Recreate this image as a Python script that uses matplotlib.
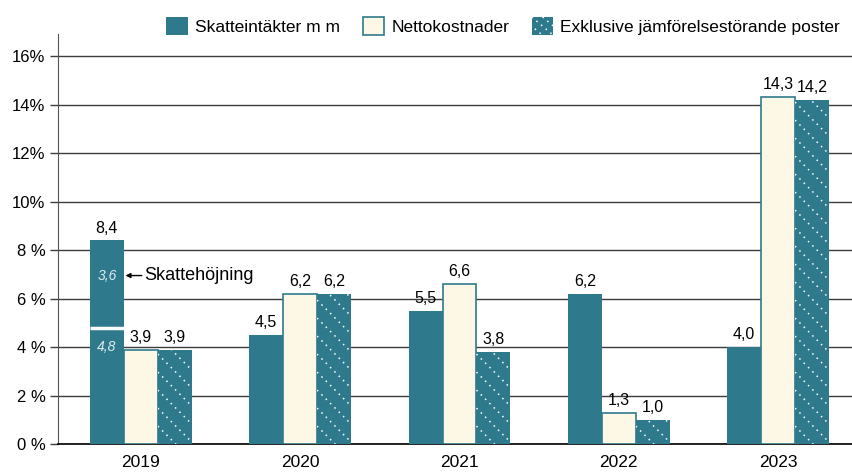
import numpy as np
import matplotlib.pyplot as plt
from matplotlib.patches import Patch, Rectangle
from matplotlib.lines import Line2D
from matplotlib.legend_handler import HandlerBase

plt.rcParams['font.family'] = ['Liberation Sans Narrow', 'Liberation Sans', 'DejaVu Sans']

# Data
years = ['2019', '2020', '2021', '2022', '2023']
skatt = [8.4, 4.5, 5.5, 6.2, 4.0]
netto = [3.9, 6.2, 6.6, 1.3, 14.3]
exkl = [3.9, 6.2, 3.8, 1.0, 14.2]
skatt_2019_base = 4.8
skatt_2019_hojning = 3.6
yticks = [0, 2, 4, 6, 8, 10, 12, 14, 16]
ytick_labels = ['0 %', '2 %', '4 %', '6 %', '8 %', '10%', '12%', '14%', '16%']

teal = '#2e7a8c'
cream = '#fdf8e6'
grid = '#3c3c3c'
dots = (0, (1, 3))
dotcol = 'white'


def dotted_hatch(ax, bar):
    # white dotted diagonal lines clipped to the bar
    x0, y0 = bar.get_x(), bar.get_y()
    w, h = bar.get_width(), bar.get_height()
    trans = ax.transData
    px = trans.transform((1, 1)) - trans.transform((0, 0))
    step = 18 / px[1]
    k = w * px[0] / px[1]
    for c in np.arange(y0 - k, y0 + h + k + step, step):
        ln, = ax.plot([x0, x0 + w], [c + k, c], color=dotcol, lw=1.1,
                      ls=dots, zorder=4)
        ln.set_clip_path(bar)


class DottedHandler(HandlerBase):
    def create_artists(self, legend, orig, xd, yd, width, height, fontsize, trans):
        r = Rectangle((-xd, -yd), width, height, facecolor=teal, lw=0, transform=trans)
        arts = [r]
        for off in [-0.5, 0.0, 0.5]:
            ln = Line2D([-xd + off * width, -xd + width + off * width],
                        [-yd + height, -yd], color=dotcol, lw=1.1, ls=dots,
                        transform=trans)
            ln.set_clip_path(r)
            arts.append(ln)
        return arts


fig = plt.figure(figsize=(8.53, 4.75), dpi=100)
ax = fig.add_axes([0.068, 0.065, 0.932, 0.863])

x = np.arange(len(years))
w = 0.213

ax.set_xlim(-0.52, 4.47)
ax.set_ylim(0, 16.9)

sk = ax.bar(x - w, skatt, w, color=teal, zorder=3)
nb = ax.bar(x, netto, w, color=cream, edgecolor=teal, linewidth=1.2, zorder=3)
eb = ax.bar(x + w, exkl, w, color=teal, zorder=3)
for b in eb:
    dotted_hatch(ax, b)

# split line in 2019 bar
ax.plot([x[0] - 1.5 * w, x[0] - 0.5 * w], [skatt_2019_base, skatt_2019_base],
        color='white', lw=2.5, zorder=4, solid_capstyle='butt')
ax.text(x[0] - w, 4.0, '4,8', color='#e0ecef', style='italic', ha='center',
        va='center', fontsize=10, zorder=5)
ax.text(x[0] - w, 6.95, '3,6', color='#e0ecef', style='italic', ha='center',
        va='center', fontsize=10, zorder=5)
ax.annotate('Skattehöjning', xy=(x[0] - 0.5 * w + 0.01, 6.95),
            xytext=(x[0] - 0.5 * w + 0.13, 6.95), ha='left', va='center', fontsize=13,
            arrowprops=dict(arrowstyle='-|>', color='black', lw=1, mutation_scale=7,
                            shrinkA=0, shrinkB=0))


def fmt(v):
    return f'{v:.1f}'.replace('.', ',')


for bars, vals in [(sk, skatt), (nb, netto), (eb, exkl)]:
    for b, v in zip(bars, vals):
        ax.text(b.get_x() + b.get_width() / 2, v + 0.2, fmt(v), ha='center',
                va='bottom', fontsize=11.5)

ax.set_yticks(yticks)
ax.set_yticklabels(ytick_labels, fontsize=12)
ax.set_xticks(x)
ax.set_xticklabels(years, fontsize=12.5)
ax.tick_params(axis='x', length=0, pad=8)
ax.tick_params(axis='y', length=6, width=1, color=grid, pad=3)
ax.yaxis.grid(True, color=grid, lw=1)
ax.set_axisbelow(True)
for s in ['top', 'right']:
    ax.spines[s].set_visible(False)
ax.spines['left'].set_color('#555555')
ax.spines['bottom'].set_color('black')
ax.spines['bottom'].set_linewidth(1.2)

handles = [Patch(facecolor=teal), Patch(facecolor=cream, edgecolor=teal, lw=1.2),
           Patch(facecolor=teal)]
labels = ['Skatteintäkter m m', 'Nettokostnader', 'Exklusive jämförelsestörande poster']
fig.legend(handles, labels, loc='center', bbox_to_anchor=(0.59, 0.945), ncol=3,
           frameon=False, fontsize=12.5, handlelength=1.25, handleheight=1.25,
           handletextpad=0.4, columnspacing=1.3,
           handler_map={handles[2]: DottedHandler()})

fig.savefig('out.png', dpi=100)
